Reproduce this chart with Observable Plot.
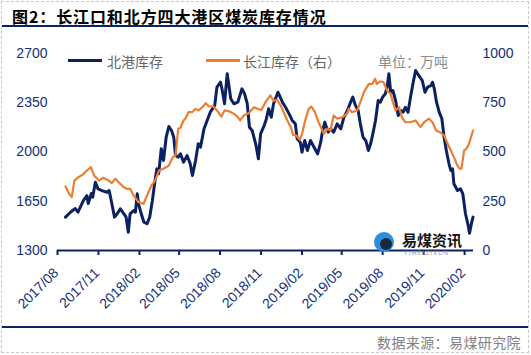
<!DOCTYPE html>
<html><head><meta charset="utf-8">
<script src="https://cdn.jsdelivr.net/npm/d3@7"></script>
<script src="https://cdn.jsdelivr.net/npm/@observablehq/plot@0.6"></script>
<style>
body{margin:0;background:#fff;}
#wrap{position:relative;width:531px;height:355px;overflow:hidden;font-family:"Noto Sans CJK SC","Noto Sans",sans-serif;}
#frame{position:absolute;left:1px;top:1px;width:526px;height:350px;border:1px dashed #c8c8c8;}
#title{position:absolute;left:12px;top:4px;font-size:16px;font-weight:700;color:#000;letter-spacing:0.9px;white-space:nowrap;}
.rule{position:absolute;left:2px;width:526px;height:2px;background:#0c2366;}
#chart{position:absolute;left:0;top:0;}
.leg{position:absolute;top:51px;font-size:14px;color:#666;white-space:nowrap;}
.sw{position:absolute;top:59px;height:3px;width:34px;}
#src{position:absolute;right:10px;top:332px;font-size:14px;color:#7f7f7f;letter-spacing:0.4px;white-space:nowrap;}
#logoT{position:absolute;left:402px;top:229px;font-size:15px;font-weight:700;color:#111;white-space:nowrap;}
#logoS{position:absolute;left:404px;top:249px;font-size:6px;color:#999;letter-spacing:1px;font-family:"DejaVu Sans";}
#logoC{position:absolute;left:374px;top:232px;width:20px;height:20px;border-radius:50%;background:#2a8fe0;}
#logoC2{position:absolute;left:380px;top:238px;width:12px;height:12px;border-radius:50%;background:#1b2a3a;}
</style></head>
<body><div id="wrap">
<div id="frame"></div>
<div id="title">图2：长江口和北方四大港区煤炭库存情况</div>
<div class="rule" style="top:25px"></div>
<div class="rule" style="top:326px"></div>
<div id="chart"></div>
<div class="sw" style="left:68px;background:#0b2162"></div>
<div class="leg" style="left:107px">北港库存</div>
<div class="sw" style="left:206px;background:#ed7d31"></div>
<div class="leg" style="left:243px">长江库存（右）</div>
<div class="leg" style="left:378px;color:#8c8c8c">单位：万吨</div>
<div id="logoC"></div>
<div id="logoC2"></div>
<div id="logoT">易煤资讯</div>
<div id="logoS">YIMEIZIXUN</div>
<div id="src">数据来源：易煤研究院</div>
</div>
<script>
// 北港库存 (left axis, 万吨)
const northDates = [
"2017-08-19","2017-08-30","2017-09-10","2017-09-16","2017-09-28","2017-10-06","2017-10-09","2017-10-16","2017-10-19","2017-10-25",
"2017-10-31","2017-11-09","2017-11-20","2017-11-25","2017-12-01","2017-12-07","2017-12-13","2017-12-20","2017-12-28","2018-01-02",
"2018-01-07","2018-01-11","2018-01-19","2018-01-23","2018-01-27","2018-01-30","2018-02-05","2018-02-11","2018-02-18","2018-02-24",
"2018-03-02","2018-03-08","2018-03-12","2018-03-16","2018-03-22","2018-03-27","2018-04-02","2018-04-08","2018-04-14","2018-04-19",
"2018-04-23","2018-04-29","2018-05-04","2018-05-11","2018-05-19","2018-05-26","2018-05-31","2018-06-07","2018-06-13","2018-06-18",
"2018-06-26","2018-07-03","2018-07-10","2018-07-20","2018-07-25","2018-08-02","2018-08-06","2018-08-11","2018-08-17","2018-08-25",
"2018-09-01","2018-09-10","2018-09-19","2018-09-25","2018-10-01","2018-10-06","2018-10-12","2018-10-20","2018-10-26","2018-10-31",
"2018-11-08","2018-11-12","2018-11-18","2018-11-24","2018-11-29","2018-12-09","2018-12-19","2018-12-26","2019-01-03","2019-01-10",
"2019-01-17","2019-01-21","2019-01-28","2019-02-01","2019-02-07","2019-02-13","2019-02-20","2019-02-28","2019-03-08","2019-03-15",
"2019-03-18","2019-03-24","2019-04-01","2019-04-06","2019-04-13","2019-04-21","2019-04-29","2019-05-06","2019-05-14","2019-05-21",
"2019-05-26","2019-06-01","2019-06-07","2019-06-12","2019-06-18","2019-06-24","2019-06-30","2019-07-05","2019-07-10","2019-07-16",
"2019-07-22","2019-07-27","2019-08-01","2019-08-07","2019-08-11","2019-08-15","2019-08-19","2019-08-24","2019-08-30","2019-09-05",
"2019-09-11","2019-09-16","2019-09-21","2019-09-27","2019-10-02","2019-10-08","2019-10-14","2019-10-21","2019-10-29","2019-11-04",
"2019-11-10","2019-11-18","2019-11-21","2019-11-25","2019-11-30","2019-12-06","2019-12-12","2019-12-17","2019-12-22","2019-12-28",
"2020-01-01","2020-01-05","2020-01-08","2020-01-16","2020-01-23","2020-01-28","2020-02-03","2020-02-09","2020-02-12","2020-02-17",
"2020-02-20"];
const northStock = [
1537,1572,1598,1572,1655,1690,1634,1705,1679,1785,
1738,1726,1714,1726,1632,1537,1561,1596,1561,1537,
1430,1561,1584,1572,1703,1632,1561,1501,1490,1537,
1655,1797,1880,1845,2023,1940,2105,2181,2153,2105,
1975,1963,1987,1928,1975,1916,1833,1940,2058,2034,
2165,2224,2283,2331,2461,2496,2437,2343,2556,2378,
2343,2354,2449,2414,2343,2176,2153,2058,1952,2129,
2188,2224,2307,2247,2343,2425,2354,2318,2271,2224,
2200,2094,2070,1999,2082,2011,2082,2034,1987,2070,
2129,2212,2141,2165,2141,2200,2165,2247,2295,2354,
2390,2331,2295,2200,2105,2082,2011,2058,2129,2224,
2366,2354,2390,2414,2461,2556,2425,2437,2366,2259,
2295,2283,2318,2283,2378,2485,2579,2544,2508,2425,
2461,2473,2496,2449,2354,2283,2236,2105,2011,1916,
1869,1880,1774,1726,1738,1703,1561,1478,1423,1501,
1537];

// 长江库存 (right axis, 万吨)
const yangtzeDates = [
"2017-08-19","2017-08-27","2017-09-02","2017-09-08","2017-09-17","2017-09-29","2017-10-06","2017-10-15","2017-10-22","2017-11-02",
"2017-11-12","2017-11-24","2017-12-01","2017-12-09","2017-12-20","2017-12-28","2018-01-04","2018-01-11","2018-01-19","2018-01-30",
"2018-02-10","2018-02-18","2018-02-28","2018-03-08","2018-03-17","2018-03-27","2018-04-08","2018-04-17","2018-04-23","2018-04-29",
"2018-05-04","2018-05-11","2018-05-15","2018-05-22","2018-05-30","2018-06-07","2018-06-14","2018-06-22","2018-06-30","2018-07-07",
"2018-07-17","2018-07-25","2018-08-04","2018-08-11","2018-08-21","2018-09-01","2018-09-09","2018-09-15","2018-09-23","2018-10-04",
"2018-10-16","2018-10-24","2018-11-02","2018-11-11","2018-11-22","2018-11-29","2018-12-07","2018-12-15","2018-12-22","2018-12-30",
"2019-01-07","2019-01-12","2019-01-19","2019-01-27","2019-02-01","2019-02-08","2019-02-16","2019-02-22","2019-03-02","2019-03-10",
"2019-03-17","2019-03-22","2019-03-30","2019-04-06","2019-04-13","2019-04-21","2019-05-03","2019-05-14","2019-05-17","2019-05-24",
"2019-06-05","2019-06-12","2019-06-20","2019-07-01","2019-07-09","2019-07-15","2019-07-19","2019-07-27","2019-08-03","2019-08-11",
"2019-08-19","2019-08-24","2019-08-30","2019-09-07","2019-09-13","2019-09-21","2019-10-02","2019-10-14","2019-10-25","2019-11-02",
"2019-11-13","2019-11-21","2019-11-29","2019-12-08","2019-12-17","2019-12-25","2020-01-01","2020-01-08","2020-01-16","2020-01-21",
"2020-01-25","2020-01-31","2020-02-05","2020-02-11","2020-02-20"];
const yangtzeStock = [
325,288,271,355,372,389,406,423,381,355,
369,355,342,364,338,321,313,313,279,245,
237,279,330,355,406,415,431,474,482,618,
623,660,669,702,702,719,711,727,748,731,
731,711,680,711,707,694,680,660,685,697,
727,719,714,753,787,761,765,736,702,660,
626,587,584,562,592,660,719,731,702,651,
618,592,618,609,685,669,677,697,719,702,
711,753,804,846,846,872,846,859,854,812,
795,753,711,727,677,651,651,660,626,651,
669,651,609,600,584,542,508,474,431,415,
415,508,516,542,609];

const xTickDates = ["2017-08-01","2017-11-01","2018-02-01","2018-05-01","2018-08-01","2018-11-01","2019-02-01","2019-05-01","2019-08-01","2019-11-01","2020-02-01"];
const leftTicks = [1300,1650,2000,2350,2700];
const rightTicks = [0,250,500,750,1000];

const navy = "#0b2162", orange = "#ed7d31", labelColor = "#12307a";
const parse = d3.utcParse("%Y-%m-%d");
const fmt = d3.utcFormat("%Y/%m");
const north = northDates.map((d,i)=>({date:parse(d), value:northStock[i]}));
const yangtze = yangtzeDates.map((d,i)=>({date:parse(d), value:yangtzeStock[i]}));
// map right axis (0..1000) onto left scale (1300..2700)
const toLeft = v => 1300 + v*1.4;

const chart = Plot.plot({
  width: 531, height: 355,
  marginLeft: 57, marginRight: 58, marginTop: 53, marginBottom: 105,
  x: {type:"utc", domain:[parse("2017-08-01"), parse("2020-02-21")]},
  y: {domain:[1300,2700]},
  style: {fontFamily:"'Liberation Sans', Arial, sans-serif", fontSize:"13px", color:labelColor, background:"transparent", overflow:"visible"},
  marks: [
    Plot.axisY({anchor:"left", ticks:leftTicks, tickFormat:d=>String(d), tickSize:0, tickPadding:10, label:null, fontSize:14, fill:labelColor}),
    Plot.axisY({anchor:"right", ticks:rightTicks.map(toLeft), tickFormat:d=>String(Math.round((d-1300)/1.4)), tickSize:0, tickPadding:9, label:null, fontSize:14, fill:labelColor}),
    Plot.axisX({ticks:xTickDates.map(parse), tickFormat:()=>"", tickSize:5, label:null, stroke:navy, strokeWidth:2}),
    Plot.text(xTickDates, {x:d=>parse(d), y:()=>1300, text:d=>fmt(parse(d)), rotate:-45, textAnchor:"end", lineAnchor:"middle", dx:-1.5, dy:20, fontSize:14, fill:labelColor}),
    Plot.ruleY([1300], {stroke:navy, strokeWidth:2}),
    Plot.line(north, {x:"date", y:"value", stroke:navy, strokeWidth:3}),
    Plot.line(yangtze, {x:"date", y:d=>toLeft(d.value), stroke:orange, strokeWidth:2.2})
  ]
});
document.getElementById("chart").appendChild(chart);
</script>
</body></html>
